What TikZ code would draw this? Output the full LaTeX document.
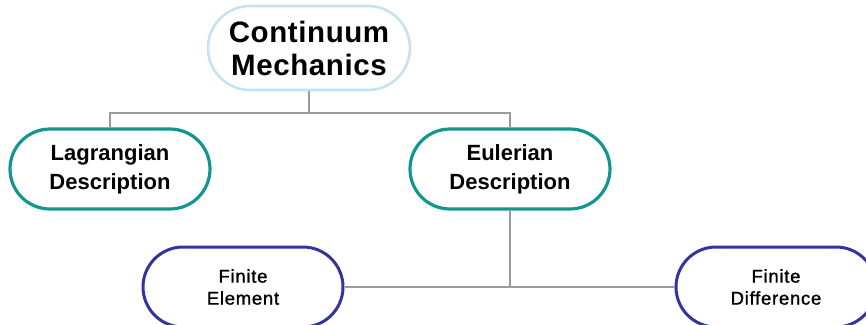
\documentclass[tikz,border=0pt]{standalone}
\usepackage{fontspec}
\setmainfont{Liberation Sans}
\newfontfamily\lowfont[FakeBold=1.2,LetterSpace=4]{Liberation Sans}
\newfontfamily\topfont[LetterSpace=2]{Liberation Sans}
\definecolor{topc}{HTML}{C4E2F2}
\definecolor{tealc}{HTML}{13968F}
\definecolor{bluec}{HTML}{3334A0}
\definecolor{linec}{HTML}{9A9A9A}
\begin{document}
\begin{tikzpicture}[x=1pt,y=-1pt,
  box/.style={draw, fill=white, rounded corners=40pt, minimum width=200pt, minimum height=80pt, align=center, inner sep=0pt},
  topbox/.style={box, draw=topc, line width=2.6pt, minimum width=202pt, minimum height=84pt, rounded corners=42pt, font=\topfont\bfseries\fontsize{29.5}{33}\selectfont},
  midbox/.style={box, draw=tealc, line width=3.2pt, font=\bfseries\fontsize{22}{29}\selectfont},
  lowbox/.style={box, draw=bluec, line width=3pt, font=\lowfont\fontsize{18.5}{22}\selectfont},
  conn/.style={draw=linec, line width=1.2pt}]
\useasboundingbox (0,0) rectangle (866,324);
\node[topbox] (top) at (309,48) {Continuum\\Mechanics};
\node[midbox] (lag) at (110,169) {Lagrangian\\Description};
\node[midbox] (eul) at (510,169) {Eulerian\\Description};
\node[lowbox] (fe) at (243,287) {Finite\\Element};
\node[lowbox] (fd) at (776,287) {Finite\\Difference};
\coordinate (j1) at (309,113);
\path[conn] (top.south) -- (j1);
\path[conn] (lag.north) |- (j1) -| (eul.north);
\path[conn] (fe.east) -- (fd.west);
\path[conn] (eul.south) -- (eul.south |- fe.east);
\end{tikzpicture}
\end{document}
